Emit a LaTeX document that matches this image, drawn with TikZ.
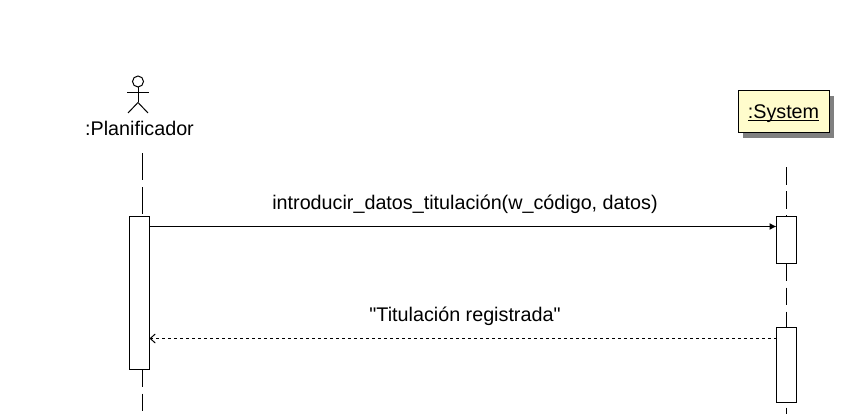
\documentclass[tikz,border=0pt]{standalone}
\usepackage{fontspec}
\setmainfont{Liberation Sans}[Ligatures=TeXOff]
\usetikzlibrary{arrows.meta,positioning}

\newcommand{\objname}[1]{\setbox0\hbox{#1}\rlap{\copy0}\rule[-3pt]{\wd0}{1pt}}

\begin{document}
\begin{tikzpicture}[
    x=1pt, y=-1pt,
    activation/.style={draw, fill=white, line width=1pt, minimum width=20pt, inner sep=0pt, outer sep=0pt},
    object/.style={draw, fill=yellow!20, line width=1pt, minimum width=91pt, minimum height=42pt, inner sep=0pt, outer sep=0pt, text height=14pt, text depth=-0.5pt, font=\fontsize{19.75}{23}\selectfont},
    objshadow/.style={fill=black!50, minimum width=91pt, minimum height=42pt, inner sep=0pt, outer sep=0pt},
    label/.style={font=\fontsize{19.75}{23}\selectfont, inner sep=0pt},
    lifeline/.style={line width=1pt, dash pattern=on 17.5pt off 6.5pt},
    call/.style={-{Latex[length=7pt,width=7pt]}, line width=1pt},
    reply/.style={-{Straight Barb[length=5pt,width=9pt]}, line width=1pt, dash pattern=on 3pt off 3pt}
  ]
  \useasboundingbox (0,0) rectangle (846,414);

  % Actor
  \node[draw, circle, line width=1pt, minimum size=11pt, inner sep=0pt, outer sep=0pt] (head) at (138,81.5) {};
  \coordinate (neck) at (138,102.5);
  \coordinate (armleft) at (127,92.5);
  \coordinate (armright) at (149,92.5);
  \coordinate (legleft) at (128,113);
  \coordinate (legright) at (148,113);
  \draw[line width=1pt] (head) -- (neck);
  \draw[line width=1pt] (armleft) -- (armright);
  \draw[line width=1pt] (legleft) -- (neck) -- (legright);
  \node[label] (planificador) at (139.5,128.5) {:Planificador};

  % System object
  \node[objshadow] (sysshadow) at (788.5,117.5) {};
  \node[object] (system) at (783.5,111.5) {\objname{:System}};

  % Activations
  \node[activation, minimum height=153pt] (planact) at (139.5,293) {};
  \node[activation, minimum height=47pt] (sysactone) at (786.5,240) {};
  \node[activation, minimum height=75pt] (sysacttwo) at (786.5,365) {};

  % Lifelines
  \coordinate (planstart) at (142,153.5);
  \coordinate (planend) at (142,414);
  \coordinate (sysstart) at (786.5,167.5);
  \coordinate (sysend) at (786.5,414);
  \draw[line width=1pt, dash pattern=on 27pt off 7pt] (planstart) -- (planact.north -| planstart);
  \draw[lifeline] (planact.south -| planstart) -- (planend);
  \draw[lifeline] (sysstart) -- (sysactone.north);
  \draw[lifeline] (sysactone.south) -- (sysacttwo.north);
  \draw[lifeline, dash phase=19pt] (sysacttwo.south) -- (sysend);

  % Messages
  \draw[call] ([yshift=-10pt]planact.north east) -- ([yshift=-10pt]sysactone.north west);
  \draw[reply] ([yshift=-11pt]sysacttwo.north west) -- ([yshift=-122pt]planact.north east);
  \node[label] (datos) at (465,204) {introducir\_datos\_titulación(w\_código, datos)};
  \node[label] (registrada) at (465,316) {"Titulación registrada"};
\end{tikzpicture}
\end{document}
